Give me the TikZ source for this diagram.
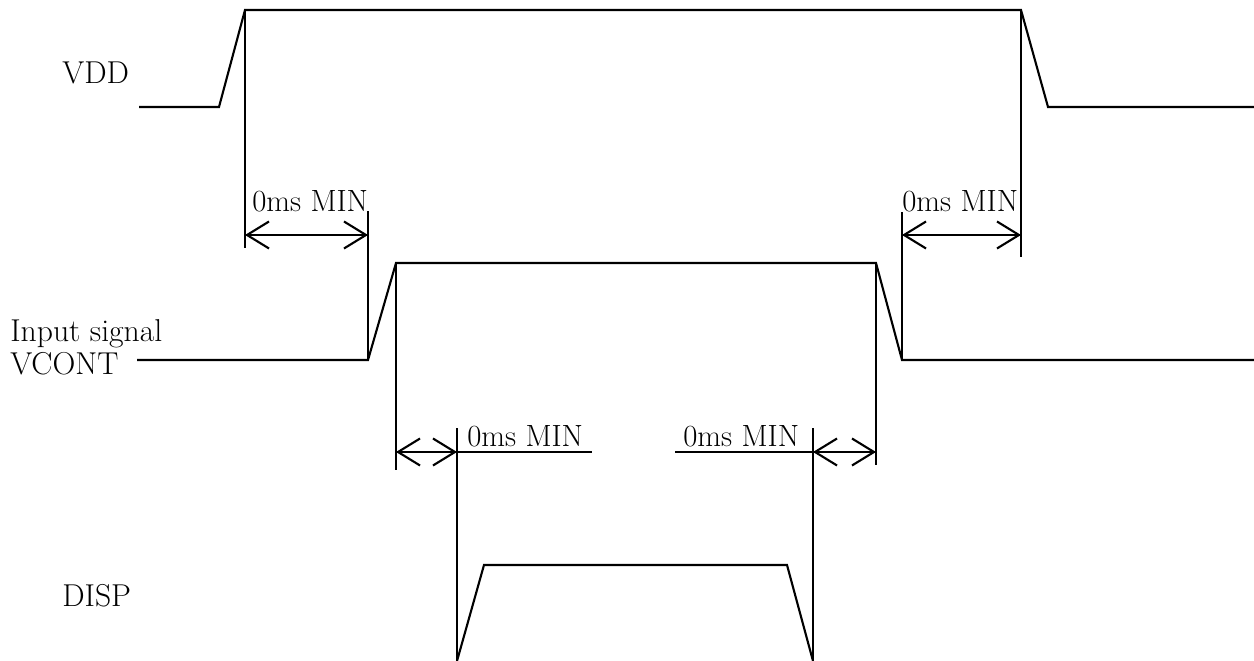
\documentclass[tikz,border=0pt]{standalone}
\usepackage{tikz}
\usetikzlibrary{arrows.meta}

\tikzset{
  wave/.style={line width=1.2pt, line join=miter},
  guide/.style={line width=1.2pt},
  span/.style={line width=1.2pt, {Straight Barb[length=4.4mm,width=5.4mm]}-{Straight Barb[length=4.4mm,width=5.4mm]}},
  sig/.style={draw=none, inner sep=0pt, anchor=base west, font=\fontsize{18}{21}\selectfont},
  lbl/.style={draw=none, inner sep=0pt, anchor=base west, font=\fontsize{17.5}{20}\selectfont},
}

\begin{document}
\begin{tikzpicture}[x=0.02cm, y=-0.02cm]
\useasboundingbox (0,0) rectangle (1254,661);

% signal names
\node [sig] (vdd) at (62,84) {VDD};
\node [sig] (inp) at (10,342) {Input signal};
\node [sig] (vcont) at (10,375) {VCONT};
\node [sig] (disp) at (62,607) {DISP};

% edges of the waveforms
\coordinate (vddUp) at (245,10);
\coordinate (vddDn) at (1021,10);
\coordinate (vcLo) at (368,360);
\coordinate (vcUp) at (396,263);
\coordinate (vcDn) at (876,263);
\coordinate (vcHi) at (902,360);
\coordinate (dsUp) at (457,661);
\coordinate (dsDn) at (813,661);

% waveforms
\draw[wave] (139,107) -- (219,107) -- (vddUp) -- (vddDn) -- (1048,107) -- (1254,107); % VDD
\draw[wave] (137,360) -- (vcLo) -- (vcUp) -- (vcDn) -- (vcHi) -- (1254,360); % VCONT
\draw[wave] (dsUp) -- (484,565) -- (787,565) -- (dsDn); % DISP

% guide lines
\draw[guide] (vddUp) -- (245,248);
\draw[guide] (vddDn) -- (1021,257);
\draw[guide] (vcLo) -- (368,211);
\draw[guide] (vcHi) -- (902,212);
\draw[guide] (vcUp) -- (396,470);
\draw[guide] (vcDn) -- (876,465);
\draw[guide] (dsUp) -- (457,428);
\draw[guide] (dsDn) -- (813,428);

% timing arrows
\coordinate (a1) at (245,235); \coordinate (b1) at (368,235);
\coordinate (a2) at (902,235); \coordinate (b2) at (1021,235);
\coordinate (a3) at (396,452); \coordinate (b3) at (457,452);
\coordinate (a4) at (813,452); \coordinate (b4) at (876,452);
\foreach \i in {1,...,4}{
    \draw[span] (a\i) -- (b\i);
}
\draw[guide] (b3) -- (592,452); % underline
\draw[guide] (675,452) -- (a4); % underline

\node [lbl] (t1) at (252,212) {0ms MIN};
\node [lbl] (t2) at (902,212) {0ms MIN};
\node [lbl] (t3) at (467,447) {0ms MIN};
\node [lbl] (t4) at (683,447) {0ms MIN};

\end{tikzpicture}
\end{document}
